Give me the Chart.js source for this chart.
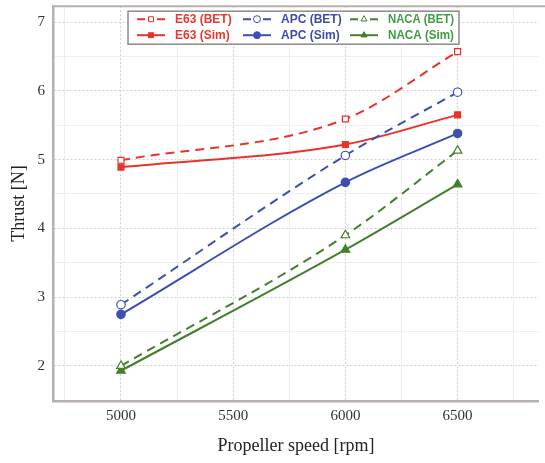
<!DOCTYPE html>
<html>
<head>
<meta charset="utf-8">
<script src="https://cdn.jsdelivr.net/npm/chart.js@4"></script>
<style>
html,body{margin:0;padding:0;background:#fff;}
#wrap{width:545px;height:463px;}
</style>
</head>
<body>
<div id="wrap"><canvas id="c" width="545" height="463"></canvas></div>
<script>
const speeds = [5000, 6000, 6500];
const e63Bet = [4.99, 5.59, 6.57];
const e63Sim = [4.89, 5.22, 5.65];
const apcBet = [2.89, 5.06, 5.98];
const apcSim = [2.75, 4.67, 5.38];
const nacaBet = [2.00, 3.90, 5.13];
const nacaSim = [1.93, 3.69, 4.64];
const seriesNames = ['E63 (BET)', 'APC (BET)', 'NACA (BET)', 'E63 (Sim)', 'APC (Sim)', 'NACA (Sim)'];
const xTickValues = [4750, 5000, 5250, 5500, 5750, 6000, 6250, 6500, 6750];
const xTickLabels = ['', '5000', '', '5500', '', '6000', '', '6500', ''];
const yTickValues = [1.5, 2, 2.5, 3, 3.5, 4, 4.5, 5, 5.5, 6, 6.5, 7];
const yTickLabels = ['', '2', '', '3', '', '4', '', '5', '', '6', '', '7'];

const RED = '#e8332a', BLUE = '#3d4fb3', GREEN = '#447f2e';
const TXT = {red:'#e63a2c', blue:'#3e4ca8', green:'#3f9c3f'};

function pts(vals){ return vals.map((v,i)=>({x:speeds[i], y:v})); }
function ds(label, vals, color, txt, style, dashed){
  return {
    label, data: pts(vals), borderColor: color, borderWidth: 2,
    borderDash: dashed ? [9,6] : [],
    backgroundColor: dashed ? '#ffffff' : color,
    pointBackgroundColor: dashed ? '#ffffff' : color,
    pointBorderColor: color, pointBorderWidth: 1.2,
    pointStyle: style, pointRadius: style==='triangle' ? 5 : 4.2,
    cubicInterpolationMode: 'monotone', txtColor: txt, hollow: dashed
  };
}
const datasets = [
  ds(seriesNames[0], e63Bet, RED, TXT.red, 'rect', true),
  ds(seriesNames[1], apcBet, BLUE, TXT.blue, 'circle', true),
  ds(seriesNames[2], nacaBet, GREEN, TXT.green, 'triangle', true),
  ds(seriesNames[3], e63Sim, RED, TXT.red, 'rect', false),
  ds(seriesNames[4], apcSim, BLUE, TXT.blue, 'circle', false),
  ds(seriesNames[5], nacaSim, GREEN, TXT.green, 'triangle', false)
];

const frame = {
  id: 'frame',
  afterDraw(chart){
    const {ctx, chartArea:a} = chart;
    ctx.save();
    ctx.strokeStyle = '#b8b0ad'; ctx.lineWidth = 2;
    ctx.beginPath(); ctx.moveTo(a.left, a.top); ctx.lineTo(chart.width, a.top); ctx.stroke();
    // legend
    const bx = a.left + 75, by = a.top + 5, bw = 331, bh = 33;
    ctx.fillStyle = '#ffffff'; ctx.fillRect(bx, by, bw, bh);
    ctx.strokeStyle = '#8e8a88'; ctx.lineWidth = 1.5; ctx.strokeRect(bx, by, bw, bh);
    const colX = [bx + 9, bx + 115, bx + 222];
    const rowY = [by + 8, by + 24];
    ctx.font = 'bold 12px "Liberation Sans", Arial, sans-serif';
    ctx.textBaseline = 'middle';
    chart.data.datasets.forEach((d, i) => {
      const col = i % 3, row = Math.floor(i / 3);
      const x = colX[col], y = rowY[row];
      const sw = 28;
      ctx.strokeStyle = d.borderColor; ctx.lineWidth = 2;
      ctx.beginPath();
      if (d.hollow) {
        ctx.moveTo(x, y); ctx.lineTo(x + 8, y);
        ctx.moveTo(x + sw - 8, y); ctx.lineTo(x + sw, y);
      } else { ctx.moveTo(x, y); ctx.lineTo(x + sw, y); }
      ctx.stroke();
      ctx.lineWidth = 1;
      ctx.fillStyle = d.hollow ? '#ffffff' : d.borderColor;
      Chart.helpers.drawPoint(ctx, {pointStyle: d.pointStyle, radius: 3.5, borderWidth: 1}, x + sw/2, y);
      ctx.fillStyle = d.txtColor;
      ctx.textAlign = 'left';
      ctx.fillText(d.label, x + sw + 10, y + 0.5, col === 2 ? 66 : 200);
    });
    ctx.restore();
  }
};

const majorX = c => c.tick && xTickLabels[xTickValues.indexOf(c.tick.value)] !== '';
const majorY = c => c.tick && yTickLabels[yTickValues.indexOf(c.tick.value)] !== '';
const SERIF = '"Liberation Serif", "Times New Roman", serif';

new Chart(document.getElementById('c'), {
  type: 'line',
  data: { datasets },
  plugins: [frame],
  options: {
    responsive: false, animation: false,
    layout: { padding: { top: 5, right: 0, left: 0, bottom: 0 } },
    plugins: { legend: { display: false }, tooltip: { enabled: false } },
    scales: {
      x: {
        type: 'linear', min: 4697, max: 6862,
        afterBuildTicks(s){ s.ticks = xTickValues.map(v => ({value: v})); },
        afterFit(s){ s.height = 62; s.paddingLeft = 0; s.paddingRight = 0; },
        ticks: {
          padding: 6, autoSkip: false, maxRotation: 0,
          font: { family: SERIF, size: 15 },
          color: '#333',
          callback: (v, i) => xTickLabels[xTickValues.indexOf(v)] ?? ''
        },
        grid: {
          drawTicks: false,
          color: c => majorX(c) ? '#cfcfcf' : '#eeeeee',
          lineWidth: 1
        },
        border: { color: '#b8b0ad', width: 2.5,
          dash: c => (c.type === 'tick' && majorX(c)) ? [2,2] : [] },
        title: { display: true, text: 'Propeller speed [rpm]',
          font: { family: SERIF, size: 18 },
          color: '#222', padding: { top: 6, bottom: 6 } }
      },
      y: {
        type: 'linear', min: 1.49, max: 7.23,
        afterBuildTicks(s){ s.ticks = yTickValues.map(v => ({value: v})); },
        afterFit(s){ s.width = 53; s.paddingTop = 0; s.paddingBottom = 0; },
        ticks: {
          padding: 8, autoSkip: false,
          font: { family: SERIF, size: 15 },
          color: '#333',
          callback: (v, i) => yTickLabels[yTickValues.indexOf(v)] ?? ''
        },
        grid: {
          drawTicks: false,
          color: c => majorY(c) ? '#cfcfcf' : '#eeeeee',
          lineWidth: 1
        },
        border: { color: '#b8b0ad', width: 2.5,
          dash: c => (c.type === 'tick' && majorY(c)) ? [2,2] : [] },
        title: { display: true, text: 'Thrust [N]',
          font: { family: SERIF, size: 18 },
          color: '#222', padding: { top: 8, bottom: 0 } }
      }
    }
  }
});
</script>
</body>
</html>
